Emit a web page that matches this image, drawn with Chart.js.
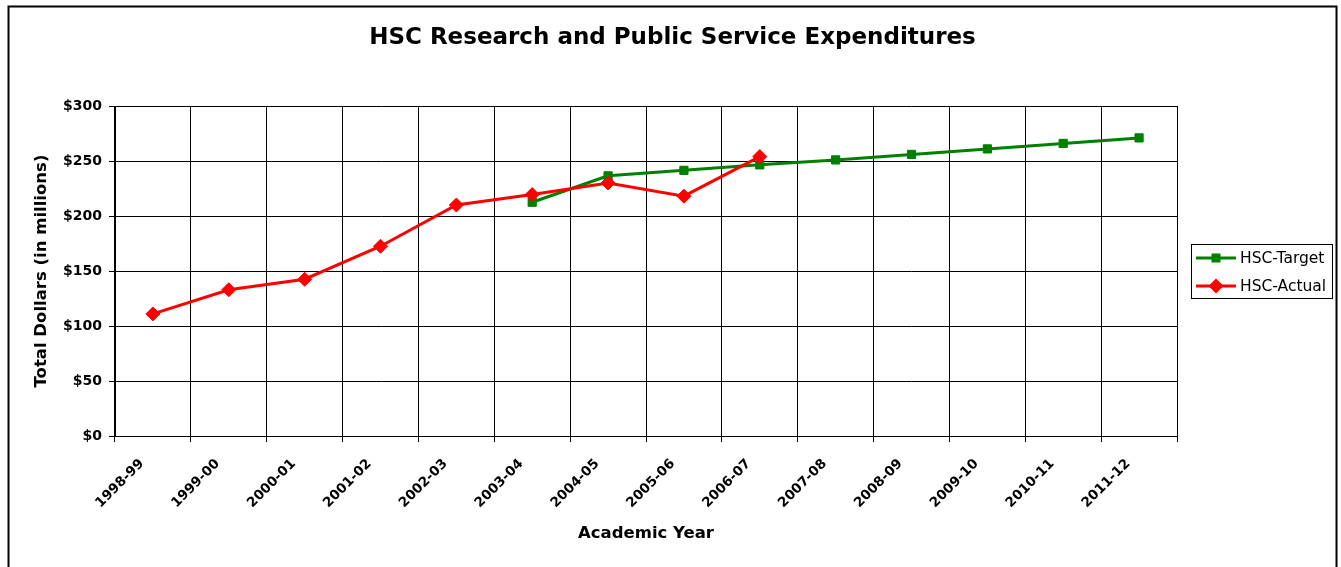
<!DOCTYPE html>
<html>
<head>
<meta charset="utf-8">
<script src="https://cdn.jsdelivr.net/npm/chart.js@4/dist/chart.umd.min.js"></script>
<style>
html,body{margin:0;padding:0;background:#fff;}
#wrap{width:1341px;height:567px;position:relative;}
</style>
</head>
<body>
<div id="wrap"><canvas id="c" width="1341" height="567"></canvas></div>
<script>
const chartTitle = 'HSC Research and Public Service Expenditures';
const xTitle = 'Academic Year';
const yTitle = 'Total Dollars (in millions)';
const categories = ['1998-99','1999-00','2000-01','2001-02','2002-03','2003-04','2004-05','2005-06','2006-07','2007-08','2008-09','2009-10','2010-11','2011-12'];
const targetValues = [null,null,null,null,null,212.5,236.5,241.5,246.5,251,256,261,266,271];
const actualValues = [111,133,142.5,172.5,210,219.5,230,218,254,null,null,null,null,null];
const yTickValues = [0,50,100,150,200,250,300];

const FONT = 'DejaVu Sans';

const framePlugin = {
  id: 'frameAndLegend',
  beforeDraw(chart) {
    const ctx = chart.ctx;
    ctx.save();
    ctx.fillStyle = '#fff';
    ctx.fillRect(0, 0, chart.width, chart.height);
    ctx.strokeStyle = '#000';
    ctx.lineWidth = 2;
    ctx.strokeRect(8.5, 6.5, 1328, 620);
    ctx.restore();
  },
  afterDraw(chart) {
    const ctx = chart.ctx;
    ctx.save();
    // title
    ctx.fillStyle = '#000';
    ctx.font = 'bold 23px "' + FONT + '"';
    ctx.textAlign = 'center';
    ctx.textBaseline = 'alphabetic';
    ctx.fillText(chartTitle, 672.5, 43.5);
    // legend
    const bx = 1191.5, by = 244.5, bw = 141, bh = 54;
    ctx.strokeStyle = '#000';
    ctx.lineWidth = 1;
    ctx.strokeRect(bx, by, bw, bh);
    const ds = chart.data.datasets;
    const rows = [258, 286];
    ds.forEach((d, i) => {
      const y = rows[i];
      ctx.strokeStyle = d.borderColor;
      ctx.lineWidth = 3;
      ctx.beginPath();
      ctx.moveTo(1196, y);
      ctx.lineTo(1236, y);
      ctx.stroke();
      ctx.fillStyle = d.backgroundColor;
      const cx = 1216;
      if (d.pointStyle === 'rect') {
        ctx.fillRect(cx - 4.5, y - 4.5, 9, 9);
      } else {
        const r = 7.5;
        ctx.beginPath();
        ctx.moveTo(cx, y - r);
        ctx.lineTo(cx + r, y);
        ctx.lineTo(cx, y + r);
        ctx.lineTo(cx - r, y);
        ctx.closePath();
        ctx.fill();
      }
      ctx.fillStyle = '#000';
      ctx.font = '15.5px "' + FONT + '"';
      ctx.textAlign = 'left';
      ctx.textBaseline = 'middle';
      ctx.fillText(d.label, 1240, y + 1);
    });
    ctx.restore();
  }
};

new Chart(document.getElementById('c'), {
  type: 'line',
  data: {
    labels: categories,
    datasets: [
      {
        label: 'HSC-Target',
        data: targetValues,
        borderColor: '#008000',
        backgroundColor: '#008000',
        borderWidth: 3,
        pointStyle: 'rect',
        pointRadius: 5.8,
        pointBorderWidth: 1,
        tension: 0,
        order: 2
      },
      {
        label: 'HSC-Actual',
        data: actualValues,
        borderColor: '#FF0000',
        backgroundColor: '#FF0000',
        borderWidth: 3,
        pointStyle: 'rectRot',
        pointRadius: 7,
        pointBorderWidth: 1,
        tension: 0,
        order: 1
      }
    ]
  },
  options: {
    responsive: false,
    animation: false,
    events: [],
    layout: { padding: { top: 106, left: 0, right: 164, bottom: 0 } },
    plugins: {
      legend: { display: false },
      title: { display: false },
      tooltip: { enabled: false }
    },
    scales: {
      x: {
        offset: true,
        grid: { offset: true, color: '#000', lineWidth: 1, tickLength: 6, drawTicks: true },
        border: { color: '#000', width: 1 },
        ticks: {
          autoSkip: false, maxRotation: 45, minRotation: 45,
          font: { family: FONT, weight: 'bold', size: 13.5 },
          color: '#000', padding: 14, labelOffset: -11
        },
        title: {
          display: true, text: xTitle, color: '#000',
          font: { family: FONT, weight: 'bold', size: 16.5 },
          padding: { top: 0, bottom: 23 }
        },
        afterFit(s) { s.height = 131; }
      },
      y: {
        min: 0, max: 300,
        afterBuildTicks(s) { s.ticks = yTickValues.map(v => ({ value: v })); },
        grid: { color: '#000', lineWidth: 1, tickLength: 6, drawTicks: true },
        border: { color: '#000', width: 1 },
        ticks: {
          callback: v => '$' + v,
          font: { family: FONT, weight: 'bold', size: 14 },
          color: '#000', padding: 7
        },
        title: {
          display: true, text: yTitle, color: '#000',
          font: { family: FONT, weight: 'bold', size: 16.5 },
          padding: { top: 32, bottom: 0 }
        },
        afterFit(s) { s.width = 115; }
      }
    }
  },
  plugins: [framePlugin]
});
</script>
</body>
</html>
